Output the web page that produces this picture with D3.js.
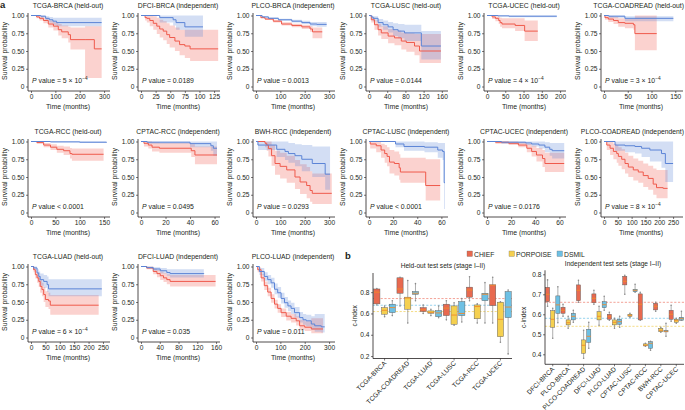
<!DOCTYPE html>
<html><head><meta charset="utf-8">
<script src="https://cdn.jsdelivr.net/npm/d3@7"></script>
<style>body{margin:0;background:#fff}svg{display:block;font-family:"Liberation Sans",Arial,Helvetica,sans-serif}</style>
</head><body><svg id="c" width="685" height="410"></svg>
<script>
// ---------- Panel a: Kaplan–Meier curves, points are [time, survival, lower CI, upper CI] ----------
const kmTitles = ["TCGA-BRCA (held-out)","DFCI-BRCA (independent)","PLCO-BRCA (independent)","TCGA-LUSC (held-out)","TCGA-UCEC (held-out)","TCGA-COADREAD (held-out)",
  "TCGA-RCC (held-out)","CPTAC-RCC (independent)","BWH-RCC (independent)","CPTAC-LUSC (independent)","CPTAC-UCEC (independent)","PLCO-COADREAD (independent)",
  "TCGA-LUAD (held-out)","DFCI-LUAD (independent)","PLCO-LUAD (independent)"];
const kmPText = ["= 5 × 10","= 0.0189","= 0.0013","= 0.0144","= 4 × 10","= 3 × 10",
  "< 0.0001","= 0.0495","= 0.0293","< 0.0001","= 0.0176","= 8 × 10",
  "= 6 × 10","= 0.035","= 0.011"];
const kmPExp = ["−4","","","","−4","−4","","","","","","−4","−4","",""];
const kmTimeTicks = [[0,100,200,300],[0,25,50,75,100,125],[0,100,200,300],[0,40,80,120,160],[0,50,100,150,200],[0,50,100,150],
  [0,50,100,150],[0,20,40,60],[0,100,200,300],[0,20,40,60],[0,20,40,60],[0,50,100,150,200,250],
  [0,50,100,150,200,250],[0,40,80,120,160],[0,100,200,300]];
const kmTimeMax = [312,130,312,167,208,160, 156,62,312,63,63,275, 264,162,312];
const survTicks = [0,0.25,0.5,0.75,1];

const tcgaBrcaLow = [[0,1,1,1],[40,0.99,0.97,1],[60,0.96,0.93,0.99],[75,0.94,0.9,0.98],[90,0.92,0.87,0.97],[105,0.9,0.85,0.97],[290,0.9,0.85,0.97]];
const tcgaBrcaHigh = [[0,1,1,1],[23,0.98,0.96,1],[35,0.96,0.93,0.99],[51,0.93,0.89,0.97],[71,0.88,0.83,0.93],[92,0.85,0.79,0.91],[112,0.8,0.72,0.88],[126,0.77,0.68,0.86],[153,0.73,0.62,0.84],[162,0.66,0.52,0.83],[222,0.66,0.12,0.85],[260,0.53,0.12,0.85],[290,0.53,0.12,0.85]];
const dfciBrcaLow = [[0,1,1,1],[32,0.97,0.9,1],[55,0.94,0.86,1],[60,0.9,0.8,1],[75,0.84,0.7,1],[106,0.84,0.7,1]];
const dfciBrcaHigh = [[0,1,1,1],[7,0.97,0.93,1],[10,0.96,0.9,1],[15,0.93,0.85,1],[21,0.89,0.8,0.99],[27,0.85,0.74,0.97],[32,0.81,0.69,0.94],[38,0.78,0.65,0.92],[44,0.73,0.6,0.89],[49,0.69,0.55,0.86],[58,0.64,0.5,0.83],[66,0.59,0.44,0.8],[75,0.57,0.4,0.8],[84,0.53,0.36,0.8],[132,0.53,0.36,0.8]];
const plcoBrcaLow = [[0,1,1,1],[25,0.98,0.97,0.99],[51,0.96,0.95,0.975],[92,0.94,0.925,0.955],[147,0.92,0.9,0.94],[188,0.9,0.88,0.925],[222,0.88,0.85,0.91],[250,0.875,0.84,0.91],[290,0.875,0.84,0.91]];
const plcoBrcaHigh = [[0,1,1,1],[20,0.97,0.96,0.985],[37,0.95,0.935,0.965],[71,0.92,0.9,0.94],[105,0.88,0.86,0.905],[147,0.86,0.835,0.885],[188,0.84,0.81,0.87],[222,0.81,0.77,0.85],[232,0.77,0.68,0.83],[272,0.77,0.68,0.83]];
const tcgaLuscLow = [[0,1,1,1],[5,0.98,0.95,1],[9,0.96,0.92,0.99],[20,0.9,0.84,0.95],[31,0.87,0.8,0.93],[42,0.84,0.76,0.91],[53,0.8,0.71,0.89],[64,0.78,0.68,0.88],[78,0.755,0.64,0.87],[115,0.57,0.38,0.78],[158,0.57,0.38,0.78]];
const tcgaLuscHigh = [[0,1,1,1],[5,0.94,0.9,0.98],[12,0.87,0.8,0.93],[20,0.8,0.72,0.88],[27,0.755,0.67,0.85],[42,0.71,0.61,0.81],[56,0.685,0.58,0.79],[71,0.64,0.52,0.76],[82,0.62,0.49,0.75],[100,0.57,0.44,0.74],[111,0.5,0.33,0.74],[158,0.5,0.33,0.74]];
const tcgaUcecLow = [[0,1,1,1],[30,0.995,0.985,1],[60,0.99,0.975,1],[191,0.99,0.975,1]];
const tcgaUcecHigh = [[0,1,1,1],[14,0.98,0.95,1],[23,0.96,0.92,0.99],[32,0.93,0.88,0.98],[36,0.9,0.84,0.97],[41,0.88,0.82,0.96],[77,0.86,0.78,0.96],[103,0.78,0.64,0.93],[139,0.78,0.64,0.93]];
const tcgaCoadLow = [[0,1,1,1],[10,0.99,0.97,1],[44,0.96,0.92,0.99],[146,0.96,0.91,0.99]];
const tcgaCoadHigh = [[0,1,1,1],[2,0.97,0.94,1],[9,0.95,0.91,0.99],[20,0.93,0.88,0.98],[30,0.9,0.84,0.96],[44,0.89,0.82,0.95],[62,0.87,0.8,0.95],[65,0.745,0.51,1],[111,0.745,0.51,1]];
const tcgaRccLow = [[0,1,1,1],[40,0.995,0.985,1],[100,0.99,0.98,1],[155,0.985,0.97,1]];
const tcgaRccHigh = [[0,1,1,1],[12,0.985,0.97,1],[26,0.95,0.92,0.98],[40,0.92,0.88,0.96],[53,0.89,0.84,0.94],[67,0.87,0.81,0.93],[80,0.83,0.76,0.91],[84,0.82,0.73,0.9],[149,0.82,0.73,0.9]];
const cptacRccLow = [[0,1,1,1],[5,0.99,0.97,1],[40,0.97,0.92,1],[57,0.94,0.87,1],[59,0.905,0.8,1],[62,0.905,0.8,1]];
const cptacRccHigh = [[0,1,1,1],[2.4,0.975,0.93,1],[6,0.95,0.9,1],[9,0.92,0.86,0.99],[15,0.905,0.84,0.98],[41,0.87,0.78,0.96],[44,0.81,0.68,0.93],[62,0.81,0.68,0.93]];
const bwhRccLow = [[0,1,1,1],[8,0.95,0.88,1],[85,0.89,0.78,1],[119,0.86,0.74,1],[133,0.83,0.7,0.98],[160,0.8,0.65,0.96],[188,0.75,0.58,0.95],[231,0.69,0.5,0.93],[284,0.54,0.32,0.93],[304,0.54,0.32,0.93]];
const bwhRccHigh = [[0,1,1,1],[37,0.975,0.92,1],[44,0.95,0.87,1],[51,0.9,0.79,1],[64,0.8,0.66,0.95],[78,0.69,0.53,0.87],[99,0.65,0.48,0.84],[126,0.6,0.42,0.8],[160,0.5,0.33,0.74],[181,0.43,0.26,0.68],[208,0.38,0.2,0.64],[222,0.31,0.15,0.58],[231,0.27,0.12,0.55],[311,0.27,0.12,0.55]];
const cptacLuscLow = [[0,1,1,1],[22,0.965,0.92,1],[29,0.93,0.87,1],[46,0.92,0.85,0.99],[57,0.88,0.77,0.98],[61,0.86,0.74,0.98],[62.3,0.42,0.05,0.98],[63,0.42,0.05,0.98]];
const cptacLuscHigh = [[0,1,1,1],[1,0.965,0.9,1],[6,0.94,0.85,1],[10,0.88,0.77,0.97],[13,0.83,0.7,0.95],[15,0.79,0.65,0.92],[17,0.71,0.55,0.88],[21,0.69,0.52,0.86],[25,0.63,0.46,0.82],[26,0.57,0.42,0.77],[47,0.38,0.17,0.75],[59,0.38,0.17,0.75]];
const cptacUcecLow = [[0,1,1,1],[12,0.99,0.97,1],[32,0.98,0.95,1],[37,0.965,0.93,1],[43,0.95,0.9,1],[48,0.92,0.85,0.99],[52,0.89,0.8,0.98],[54,0.87,0.76,0.98],[64,0.87,0.76,0.98]];
const cptacUcecHigh = [[0,1,1,1],[7,0.99,0.97,1],[18,0.975,0.95,1],[26,0.95,0.92,0.99],[33,0.905,0.85,0.97],[37,0.86,0.79,0.94],[41,0.81,0.72,0.91],[46,0.76,0.64,0.88],[48,0.69,0.57,0.84],[64,0.69,0.57,0.84]];
const plcoCoadLow = [[0,1,1,1],[40,0.95,0.87,1],[76,0.94,0.85,1],[112,0.93,0.83,1],[136,0.905,0.78,1],[166,0.88,0.72,1],[208,0.83,0.63,1],[222,0.69,0.43,1],[250,0.69,0.43,1]];
const plcoCoadHigh = [[0,1,1,1],[10,0.95,0.88,1],[22,0.905,0.81,1],[34,0.86,0.75,0.97],[46,0.83,0.7,0.95],[52,0.79,0.66,0.92],[64,0.75,0.61,0.89],[76,0.69,0.55,0.84],[88,0.64,0.5,0.8],[106,0.6,0.45,0.76],[124,0.57,0.42,0.73],[142,0.52,0.36,0.69],[160,0.48,0.32,0.66],[178,0.4,0.25,0.62],[190,0.35,0.2,0.6],[214,0.34,0.2,0.6],[230,0.34,0.2,0.6]];
const tcgaLuadLow = [[0,1,1,1],[9,0.98,0.95,1],[21,0.91,0.85,0.96],[27,0.86,0.79,0.93],[32,0.815,0.73,0.9],[44,0.79,0.7,0.88],[56,0.745,0.64,0.86],[61,0.685,0.58,0.82],[246,0.685,0.58,0.82]];
const tcgaLuadHigh = [[0,1,1,1],[9,0.955,0.92,0.99],[15,0.885,0.83,0.94],[21,0.84,0.77,0.91],[27,0.79,0.71,0.87],[32,0.72,0.63,0.81],[38,0.675,0.58,0.77],[44,0.605,0.5,0.71],[50,0.535,0.43,0.65],[61,0.515,0.4,0.63],[67,0.455,0.32,0.6],[235,0.455,0.32,0.6]];
const dfciLuadLow = [[0,1,1,1],[12,0.985,0.97,1],[26,0.965,0.94,0.99],[41,0.94,0.9,0.98],[55,0.915,0.87,0.96],[62,0.9,0.845,0.96],[134,0.905,0.84,0.97]];
const dfciLuadHigh = [[0,1,1,1],[12,0.98,0.96,1],[26,0.93,0.89,0.97],[34,0.9,0.85,0.95],[41,0.87,0.81,0.93],[48,0.84,0.78,0.91],[55,0.815,0.75,0.89],[62,0.79,0.72,0.88],[159,0.79,0.72,0.88]];
const plcoLuadLow = [[0,1,1,1],[14,0.93,0.88,0.98],[34,0.86,0.8,0.92],[48,0.815,0.75,0.88],[62,0.77,0.7,0.84],[76,0.68,0.61,0.76],[89,0.63,0.56,0.71],[103,0.55,0.48,0.63],[117,0.49,0.42,0.57],[131,0.445,0.37,0.52],[144,0.41,0.33,0.49],[158,0.35,0.28,0.43],[179,0.28,0.21,0.36],[193,0.25,0.18,0.33],[206,0.235,0.16,0.32],[227,0.19,0.11,0.3],[241,0.165,0.08,0.33],[268,0.15,0.07,0.33],[282,0.15,0.07,0.33]];
const plcoLuadHigh = [[0,1,1,1],[7,0.955,0.92,0.99],[21,0.84,0.79,0.89],[34,0.73,0.67,0.79],[48,0.64,0.58,0.7],[62,0.55,0.49,0.61],[76,0.47,0.41,0.53],[89,0.41,0.35,0.47],[103,0.35,0.29,0.41],[124,0.3,0.24,0.36],[144,0.27,0.21,0.33],[165,0.235,0.17,0.3],[179,0.165,0.11,0.25],[200,0.145,0.09,0.23],[227,0.12,0.06,0.27],[275,0.12,0.06,0.27]];

const kmLow = [tcgaBrcaLow,dfciBrcaLow,plcoBrcaLow,tcgaLuscLow,tcgaUcecLow,tcgaCoadLow,tcgaRccLow,cptacRccLow,bwhRccLow,cptacLuscLow,cptacUcecLow,plcoCoadLow,tcgaLuadLow,dfciLuadLow,plcoLuadLow];
const kmHigh = [tcgaBrcaHigh,dfciBrcaHigh,plcoBrcaHigh,tcgaLuscHigh,tcgaUcecHigh,tcgaCoadHigh,tcgaRccHigh,cptacRccHigh,bwhRccHigh,cptacLuscHigh,cptacUcecHigh,plcoCoadHigh,tcgaLuadHigh,dfciLuadHigh,plcoLuadHigh];

// ---------- Panel b: c-index box plots, [lower whisker, Q1, median, Q3, upper whisker] ----------
const models = ["CHIEF","PORPOISE","DSMIL"];
const heldCats = ["TCGA-BRCA","TCGA-COADREAD","TCGA-LUAD","TCGA-LUSC","TCGA-RCC","TCGA-UCEC"];
const heldChief = [[0.68,0.69,0.80,0.83,0.835],[0.67,0.79,0.83,0.935,0.94],[0.60,0.618,0.635,0.655,0.68],[0.54,0.58,0.65,0.687,0.72],[0.72,0.753,0.82,0.847,0.945],[0.51,0.674,0.865,0.869,0.94]];
const heldPorpoise = [[0.57,0.593,0.63,0.655,0.67],[0.51,0.64,0.745,0.753,0.91],[0.58,0.602,0.61,0.624,0.64],[0.49,0.498,0.585,0.671,0.70],[0.51,0.55,0.665,0.68,0.69],[0.33,0.382,0.545,0.706,0.71]];
const heldDsmil = [[0.58,0.608,0.655,0.687,0.72],[0.72,0.78,0.79,0.806,0.88],[0.56,0.57,0.605,0.627,0.67],[0.52,0.58,0.60,0.712,0.74],[0.51,0.72,0.78,0.79,0.89],[0.22,0.561,0.66,0.806,0.82]];
const heldMeans = [0.74,0.618,0.677];
const heldTicks = [0.2,0.4,0.6,0.8];
const indCats = ["DFCI-BRCA","PLCO-BRCA","PLCO-COADREAD","DFCI-LUAD","PLCO-LUAD","CPTAC-LUSC","CPTAC-RCC","BWH-RCC","CPTAC-UCEC"];
const indChief = [[0.64,0.663,0.70,0.735,0.772],[0.59,0.605,0.62,0.635,0.65],[0.66,0.668,0.72,0.747,0.77],[0.65,0.658,0.68,0.702,0.72],[0.57,0.575,0.59,0.60,0.61],[0.70,0.747,0.765,0.79,0.795],[0.57,0.572,0.65,0.702,0.71],[0.615,0.622,0.64,0.655,0.66],[0.565,0.575,0.60,0.62,0.645]];
const indPorpoise = [[0.48,0.535,0.575,0.618,0.63],[0.53,0.547,0.558,0.572,0.59],[0.38,0.405,0.445,0.472,0.52],[0.545,0.572,0.59,0.613,0.64],[0.53,0.547,0.56,0.572,0.58],[0.585,0.59,0.595,0.60,0.605],[0.44,0.442,0.445,0.452,0.455],[0.51,0.513,0.52,0.53,0.535],[0.555,0.56,0.568,0.575,0.58]];
const indDsmil = [[0.558,0.605,0.647,0.692,0.738],[0.56,0.572,0.59,0.605,0.62],[0.43,0.46,0.49,0.525,0.56],[0.62,0.633,0.648,0.663,0.69],[0.535,0.55,0.563,0.575,0.59],[0.71,0.713,0.72,0.725,0.75],[0.42,0.43,0.455,0.463,0.465],[0.49,0.512,0.515,0.52,0.555],[0.57,0.57,0.578,0.585,0.615]];
const indMeans = [0.66,0.54,0.58];
const indTicks = [0.4,0.5,0.6,0.7,0.8];

// ---------- drawing ----------
const BLUE = "#5B84D6", RED = "#EF5A4C", TXT = "#231F20";
const BOXFILL = ["#E8694F","#F5D04F","#6DC0E4"];
const DASH = ["#F08C7C","#F2D46A","#7CC8EA"];
const svg = d3.select("#c");
const colX = [31,141,256,369,487,604];
const rowTop = [0,126,251];
const RIGHT_EDGE = 684;

svg.append("text").attr("x",0).attr("y",8).attr("font-size",9.5).attr("font-weight","bold").attr("fill",TXT).text("a");

kmTitles.forEach((title,i)=>{
  const row = Math.floor(i/6), col = i%6;
  const x0 = colX[col], top = rowTop[row];
  const g = svg.append("g");
  const x = d3.scaleLinear().domain([0,kmTimeMax[i]]).range([x0,x0+76]);
  const y = d3.scaleLinear().domain([0,1]).range([top+86.5, top+15.5]);
  const area = d3.area().curve(d3.curveStepAfter).x(d=>x(d[0])).y0(d=>y(d[2])).y1(d=>y(d[3]));
  const line = d3.line().curve(d3.curveStepAfter).x(d=>x(d[0])).y(d=>y(d[1]));
  const curves = [[kmHigh[i],RED],[kmLow[i],BLUE]];
  curves.forEach(([d,c])=>g.append("path").attr("d",area(d)).attr("fill",c).attr("fill-opacity",0.27));
  curves.forEach(([d,c])=>g.append("path").attr("d",line(d)).attr("fill","none").attr("stroke",c).attr("stroke-width",1));
  // axes
  const ax = g.append("g").attr("transform",`translate(0,${top+91})`)
    .call(d3.axisBottom(x).tickValues(kmTimeTicks[i]).tickSize(2).tickPadding(1.5));
  const ay = g.append("g").attr("transform",`translate(${x0-3},0)`)
    .call(d3.axisLeft(y).tickValues(survTicks).tickSize(2).tickPadding(1.5).tickFormat(d=>d===0?"0":d3.format(".2f")(d)));
  [ax,ay].forEach(a=>{a.select(".domain").remove(); a.attr("font-size",6.6).attr("font-family",null);
    a.selectAll("line").attr("stroke",TXT).attr("stroke-width",0.6); a.selectAll("text").attr("fill",TXT);});
  g.append("path").attr("d",`M${x0-3},${top+13}V${top+91}H${x0+79}`).attr("fill","none").attr("stroke",TXT).attr("stroke-width",0.8);
  // labels
  const tt = g.append("text").attr("x",x0+37).attr("y",top+8).attr("text-anchor","middle").attr("font-size",6.8).attr("fill",TXT).text(title);
  const tw = tt.node().getComputedTextLength();
  if (x0+37+tw/2 > RIGHT_EDGE) tt.attr("x", RIGHT_EDGE - tw/2);
  g.append("text").attr("x",x0+37).attr("y",top+109).attr("text-anchor","middle").attr("font-size",6.9).attr("fill",TXT).text("Time (months)");
  g.append("text").attr("transform",`translate(${x0-24},${top+51}) rotate(-90)`).attr("text-anchor","middle").attr("font-size",6.9).attr("fill",TXT).text("Survival probability");
  const pt = g.append("text").attr("x",x0+1).attr("y",top+83).attr("font-size",6.9).attr("fill",TXT);
  pt.append("tspan").attr("font-style","italic").text("P");
  pt.append("tspan").text(" value " + kmPText[i]);
  if (kmPExp[i]) pt.append("tspan").attr("dy",-2.8).attr("font-size",4.8).text(kmPExp[i]);
});

// ---------- panel b ----------
svg.append("text").attr("x",345).attr("y",259).attr("font-size",9.5).attr("font-weight","bold").attr("fill",TXT).text("b");
const legX = [467,509,557];
models.forEach((m,k)=>{
  svg.append("rect").attr("x",legX[k]).attr("y",251).attr("width",5.5).attr("height",5.5).attr("fill",BOXFILL[k]).attr("stroke","#666").attr("stroke-width",0.3);
  svg.append("text").attr("x",legX[k]+7).attr("y",256.5).attr("font-size",6.8).attr("fill",TXT).text(m);
});

function boxPanel(cats, series, means, ticks, yDom, yRange, xRange, title, titleX, titleY, labelX){
  const g = svg.append("g");
  const y = d3.scaleLinear().domain(yDom).range(yRange);
  const xb = d3.scaleBand().domain(cats).range(xRange);
  const xs = d3.scaleBand().domain(models).range([0,xb.bandwidth()]).paddingInner(0.2).paddingOuter(0.1);
  means.forEach((v,k)=>g.append("line").attr("x1",xRange[0]).attr("x2",xRange[1]).attr("y1",y(v)).attr("y2",y(v))
    .attr("stroke",DASH[k]).attr("stroke-width",0.8).attr("stroke-dasharray","2.2,1.6"));
  series.forEach((s,k)=>{
    s.forEach((st,j)=>{
      const bx = xb(cats[j]) + xs(models[k]), w = xs.bandwidth(), cx = bx + w/2;
      g.append("line").attr("x1",cx).attr("x2",cx).attr("y1",y(st[0])).attr("y2",y(st[4])).attr("stroke","#8A8A8A").attr("stroke-width",0.7);
      g.append("rect").attr("x",bx).attr("y",y(st[3])).attr("width",w).attr("height",Math.max(0.8,y(st[1])-y(st[3])))
        .attr("fill",BOXFILL[k]).attr("stroke","#5A5A5A").attr("stroke-width",0.45);
      g.append("line").attr("x1",bx).attr("x2",bx+w).attr("y1",y(st[2])).attr("y2",y(st[2])).attr("stroke","#F08A2C").attr("stroke-width",0.9);
      [st[0],st[4]].forEach(v=>g.append("circle").attr("cx",cx).attr("cy",y(v)).attr("r",0.8).attr("fill","#8A8A8A"));
    });
  });
  const ay = g.append("g").attr("transform",`translate(${xRange[0]},0)`).call(d3.axisLeft(y).tickValues(ticks).tickSize(2).tickPadding(1.5).tickFormat(d3.format(".1f")));
  const ax = g.append("g").attr("transform",`translate(0,${yRange[0]})`).call(d3.axisBottom(xb).tickSize(2).tickPadding(1));
  [ax,ay].forEach(a=>{a.select(".domain").remove(); a.attr("font-size",6.6).attr("font-family",null);
    a.selectAll("line").attr("stroke",TXT).attr("stroke-width",0.6); a.selectAll("text").attr("fill",TXT);});
  ax.selectAll("text").attr("text-anchor","end").attr("dy",null).attr("y",null)
    .attr("transform","translate(1,4) rotate(-45)").attr("dominant-baseline","middle");
  g.append("path").attr("d",`M${xRange[0]},${yRange[1]}V${yRange[0]}H${xRange[1]}`).attr("fill","none").attr("stroke",TXT).attr("stroke-width",0.8);
  g.append("text").attr("x",titleX).attr("y",titleY).attr("text-anchor","middle").attr("font-size",6.6).attr("fill",TXT).text(title);
  g.append("text").attr("transform",`translate(${labelX},${(yRange[0]+yRange[1])/2}) rotate(-90)`).attr("text-anchor","middle").attr("font-size",6.6).attr("fill",TXT).text("c-index");
}
boxPanel(heldCats,[heldChief,heldPorpoise,heldDsmil],heldMeans,heldTicks,[0.177,0.98],[358.5,273],[373,512],
  "Held-out test sets (stage I–II)",443,267.5,357);
boxPanel(indCats,[indChief,indPorpoise,indDsmil],indMeans,indTicks,[0.35,0.82],[364.3,270.3],[545,684],
  "Independent test sets (stage I–II)",613,266,526);
</script>
</body></html>
